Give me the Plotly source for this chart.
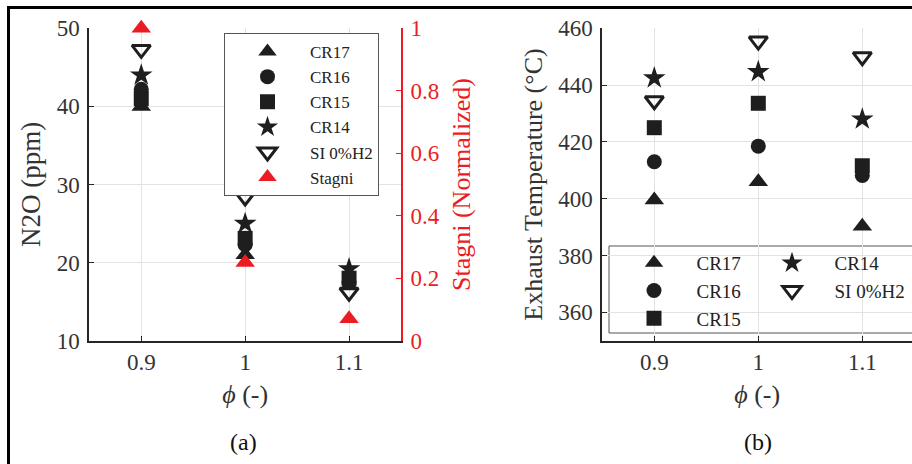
import plotly.graph_objects as go

# ---------------- data ----------------
phi = [0.9, 1.0, 1.1]
phi_ticks = [0.9, 1.0, 1.1]
phi_ticktext = ["0.9", "1", "1.1"]

# panel (a): N2O (ppm)
n2o_cr17 = [40.0, 21.0, 17.0]
n2o_cr16 = [42.2, 22.3, 17.5]
n2o_cr15 = [41.0, 23.1, 18.0]
n2o_cr14 = [44.0, 25.0, 19.2]
n2o_si = [47.3, 28.4, 16.2]
stagni_norm = [1.0, 0.25, 0.07]

# panel (b): exhaust temperature (deg C)
t_cr17 = [399.5, 406.0, 390.3]
t_cr16 = [413.0, 418.5, 408.2]
t_cr15 = [425.0, 433.6, 411.6]
t_cr14 = [442.5, 444.7, 428.0]
t_si = [434.5, 455.5, 450.0]

n2o_ticks = [10, 20, 30, 40, 50]
stagni_ticks = [0, 0.2, 0.4, 0.6, 0.8, 1]
stagni_ticktext = ["0", "0.2", "0.4", "0.6", "0.8", "1"]
temp_ticks = [360, 380, 400, 420, 440, 460]

series_names = ["CR17", "CR16", "CR15", "CR14", "SI 0%H2"]

# ---------------- style ----------------
BLACK = "#1e1e1e"
RED = "#ec1c24"
AX = "#262626"
GRID = "#e3e3e3"
FONT = "Liberation Serif"
TXT = "#333333"

symbols = ["triangle-up", "circle", "square", "star", "triangle-down-open"]
sizes = [17, 15, 15, 17, 16]
# panel (b) legend: first column legend2, second column legend3
legend_b = ["legend2", "legend2", "legend2", "legend3", "legend3"]

fig = go.Figure()

n2o_sets = [n2o_cr17, n2o_cr16, n2o_cr15, n2o_cr14, n2o_si]
t_sets = [t_cr17, t_cr16, t_cr15, t_cr14, t_si]


def marker(i):
    m = dict(symbol=symbols[i], size=sizes[i], color=BLACK)
    if symbols[i].endswith("open"):
        m["line"] = dict(color=BLACK, width=3)
    else:
        m["line"] = dict(width=0)
    return m


for i, name in enumerate(series_names):
    fig.add_trace(go.Scatter(
        x=phi, y=n2o_sets[i], mode="markers", name=name,
        marker=marker(i), xaxis="x", yaxis="y", legend="legend",
        cliponaxis=False,
    ))

fig.add_trace(go.Scatter(
    x=phi, y=stagni_norm, mode="markers", name="Stagni",
    marker=dict(symbol="triangle-up", size=17, color=RED, line=dict(width=0)),
    xaxis="x", yaxis="y2", legend="legend", cliponaxis=False,
))

for i, name in enumerate(series_names):
    fig.add_trace(go.Scatter(
        x=phi, y=t_sets[i], mode="markers", name=name,
        marker=marker(i), xaxis="x2", yaxis="y3", legend=legend_b[i],
        cliponaxis=False,
    ))

W, H = 912, 464
ydom = [1 - 340.7 / H, 1 - 28.3 / H]

common_x = dict(
    tickvals=phi_ticks, ticktext=phi_ticktext,
    showgrid=True, gridcolor=GRID, gridwidth=1,
    showline=True, linecolor=AX, linewidth=2,
    ticks="inside", ticklen=5, tickcolor=AX, tickwidth=1,
    tickfont=dict(family=FONT, size=23, color=TXT),
    ticklabelstandoff=0, automargin=False,
    zeroline=False,
    title=dict(text="<i>ϕ</i> (-)", font=dict(family=FONT, size=26, color=TXT), standoff=11),
)


def yax(**kw):
    d = dict(
        showline=True, linewidth=2, ticks="inside", ticklen=5,
        ticklabelstandoff=3, zeroline=False, automargin=False,
    )
    d.update(kw)
    return d


leg_common = dict(
    xanchor="left", yanchor="top", itemsizing="trace", orientation="v",
    itemwidth=75,
)

fig.update_layout(
    width=W, height=H,
    margin=dict(l=0, r=0, t=0, b=0, autoexpand=False),
    paper_bgcolor="white", plot_bgcolor="white",
    font=dict(family=FONT, color="#222222"),
    xaxis=dict(domain=[89.3 / W, 401 / W], range=[0.85, 1.15], anchor="y", **common_x),
    xaxis2=dict(domain=[602.3 / W, 1.0], range=[0.85, 0.85 + (912 - 602.3) / 1040], anchor="y3", **common_x),
    yaxis=yax(
        domain=ydom, range=[10, 50], tickvals=n2o_ticks, anchor="x",
        showgrid=True, gridcolor=GRID, linecolor=AX, tickcolor=AX,
        tickfont=dict(family=FONT, size=23, color=TXT),
        title=dict(text="N2O (ppm)", font=dict(family=FONT, size=27, color=TXT), standoff=8),
    ),
    yaxis2=yax(
        range=[0, 1], tickvals=stagni_ticks, ticktext=stagni_ticktext,
        overlaying="y", side="right", anchor="x",
        showgrid=False, linecolor=RED, tickcolor=RED,
        tickfont=dict(family=FONT, size=23, color=RED),
        title=dict(text="Stagni (Normalized)", font=dict(family=FONT, size=26, color=RED), standoff=13),
    ),
    yaxis3=yax(
        domain=ydom, range=[350, 460], tickvals=temp_ticks, anchor="x2",
        showgrid=True, gridcolor=GRID, linecolor=AX, tickcolor=AX,
        tickfont=dict(family=FONT, size=23, color=TXT),
        title=dict(text="Exhaust Temperature (°C)", font=dict(family=FONT, size=26, color=TXT), standoff=8),
    ),
    legend=dict(
        x=224 / W, y=1 - 33 / H,
        bgcolor="white", bordercolor="#555555", borderwidth=1,
        font=dict(family=FONT, size=17, color="#222222"),
        **leg_common,
    ),
    legend2=dict(
        x=611.5 / W, y=1 - 244 / H,
        bgcolor="rgba(0,0,0,0)", borderwidth=0,
        font=dict(family=FONT, size=19, color="#222222"),
        **leg_common,
    ),
    legend3=dict(
        x=749.5 / W, y=1 - 244 / H,
        bgcolor="rgba(0,0,0,0)", borderwidth=0,
        font=dict(family=FONT, size=19, color="#222222"),
        **leg_common,
    ),
    showlegend=True,
    annotations=[
        dict(text="(a)", x=243 / W, y=1 - 442 / H, xref="paper", yref="paper",
             xanchor="center", yanchor="middle",
             showarrow=False, font=dict(family=FONT, size=24, color="#111111")),
        dict(text="(b)", x=758 / W, y=1 - 442 / H, xref="paper", yref="paper",
             xanchor="center", yanchor="middle",
             showarrow=False, font=dict(family=FONT, size=24, color="#111111")),
    ],
    shapes=[
        # outer frame of the figure
        dict(type="line", xref="paper", yref="paper", x0=7 / W, x1=1.0,
             y0=1 - 7.5 / H, y1=1 - 7.5 / H, line=dict(color="black", width=3)),
        dict(type="line", xref="paper", yref="paper", x0=8.5 / W, x1=8.5 / W,
             y0=0, y1=1 - 6 / H, line=dict(color="black", width=3)),
        # box of panel (b) legend (two columns)
        dict(type="rect", xref="paper", yref="paper", layer="between",
             x0=609 / W, x1=920 / W, y0=1 - 333 / H, y1=1 - 246 / H,
             fillcolor="white", line=dict(color="#555555", width=1)),
    ],
)

fig.write_html(
    "out.html",
    config={"displayModeBar": False},
    post_script="document.body.style.margin='0';document.body.style.overflow='hidden';",
)
